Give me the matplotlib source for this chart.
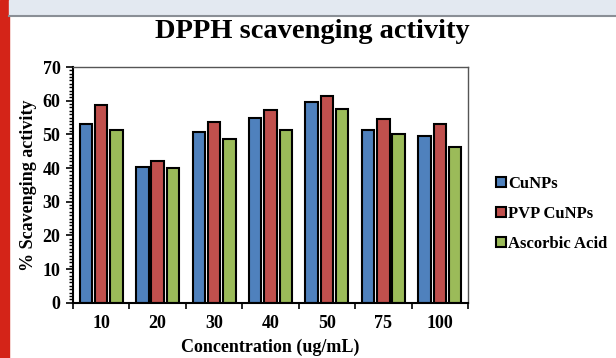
import numpy as np
import matplotlib.pyplot as plt
from matplotlib.patches import Rectangle
from matplotlib.ticker import MultipleLocator

concentrations = ["10", "20", "30", "40", "50", "75", "100"]
cunps = [53.2, 40.3, 50.7, 55.0, 59.7, 51.2, 49.5]
pvp_cunps = [58.7, 42.1, 53.7, 57.2, 61.4, 54.5, 53.2]
ascorbic_acid = [51.2, 40.0, 48.6, 51.2, 57.5, 50.0, 46.3]

series = [
    ("CuNPs", cunps, "#4F81BD"),
    ("PVP CuNPs", pvp_cunps, "#C0504D"),
    ("Ascorbic Acid", ascorbic_acid, "#9BBB59"),
]

plt.rcParams["font.family"] = ["Liberation Serif", "DejaVu Serif"]
plt.rcParams["font.weight"] = "bold"

fig = plt.figure(figsize=(6.16, 3.58), dpi=100)

# page decorations (red side bar, grey header strip)
fig.patches.append(Rectangle((0, 0), 9 / 616, 1, transform=fig.transFigure,
                             color="#D42418", zorder=0))
fig.patches.append(Rectangle((9 / 616, 1 - 15 / 358), 1, 15 / 358,
                             transform=fig.transFigure, color="#E3E9F1", zorder=0))
fig.add_artist(plt.Line2D([9 / 616, 1], [1 - 16 / 358, 1 - 16 / 358],
                          transform=fig.transFigure, color="#8A8F96", lw=1.5))

ax = fig.add_axes([73 / 616, 1 - 302.7 / 358, 395 / 616, 235.7 / 358])

x = np.arange(len(concentrations))
width = 0.22
offsets = [-0.27, 0.0, 0.27]
for (name, vals, color), off in zip(series, offsets):
    ax.bar(x + off, vals, width=width, color=color, edgecolor="black",
           linewidth=1.5, label=name, zorder=2)

ax.set_xlim(-0.5, len(concentrations) - 0.5)
ax.set_ylim(0, 70)
ax.yaxis.set_major_locator(MultipleLocator(10))
ax.yaxis.set_minor_locator(MultipleLocator(1))

ax.set_xticks(x)
ax.set_xticklabels(concentrations)
ax.set_xticks(np.arange(-0.5, len(concentrations)), minor=True)
ax.tick_params(axis="x", which="major", length=0, pad=9, labelsize=13)
ax.tick_params(axis="x", which="minor", length=4, width=1.2, direction="out")
ax.tick_params(axis="y", which="major", length=5, width=1.2, labelsize=13, pad=4)
ax.tick_params(axis="y", which="minor", length=3, width=1)

for side in ["left", "bottom"]:
    ax.spines[side].set_linewidth(1.5)
    ax.spines[side].set_color("black")
for side in ["top", "right"]:
    ax.spines[side].set_linewidth(1.0)
    ax.spines[side].set_color("#555555")

ax.set_ylabel("% Scavenging activity", fontsize=13, fontweight="bold", labelpad=4)
ax.set_xlabel("Concentration (ug/mL)", fontsize=13, fontweight="bold", labelpad=5)
fig.text(312 / 616, 1 - 31 / 358, "DPPH scavenging activity", ha="center",
         va="center", fontsize=20.5, fontweight="bold")

ax.legend(loc="center left", bbox_to_anchor=(1.072, 0.376), frameon=False,
          fontsize=12, handlelength=0.55, handleheight=0.55, handletextpad=0.15,
          labelspacing=0.85, borderaxespad=0, borderpad=0)

fig.savefig("out.png", dpi=100)
